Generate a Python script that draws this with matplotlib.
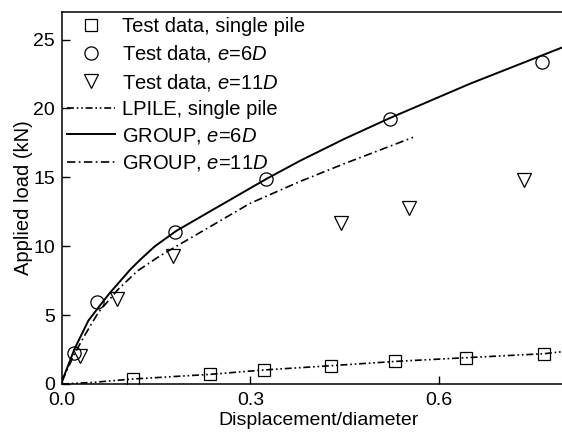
import numpy as np
import matplotlib
matplotlib.use("Agg")
import matplotlib.pyplot as plt

plt.rcParams['font.family'] = ['Liberation Sans', 'DejaVu Sans']
plt.rcParams['mathtext.fontset'] = 'custom'
plt.rcParams['mathtext.rm'] = 'Liberation Sans'
plt.rcParams['mathtext.it'] = 'Liberation Sans:italic'
plt.rcParams['lines.scale_dashes'] = False

# test data
single_x = [0.1125, 0.236, 0.322, 0.429, 0.531, 0.644, 0.768]
single_y = [0.36, 0.70, 1.02, 1.33, 1.64, 1.91, 2.20]
e6_x = [0.019, 0.055, 0.180, 0.325, 0.522, 0.765]
e6_y = [2.27, 5.97, 11.05, 14.9, 19.27, 23.37]
e11_x = [0.029, 0.087, 0.176, 0.444, 0.553, 0.735]
e11_y = [2.03, 6.2, 9.28, 11.7, 12.8, 14.8]

# model curves
lpile_x = [0, 0.05, 0.1125, 0.236, 0.322, 0.429, 0.531, 0.644, 0.768, 0.8]
lpile_y = [0, 0.12, 0.36, 0.70, 1.02, 1.33, 1.64, 1.91, 2.20, 2.36]
g6_x = [0.0, 0.02, 0.042, 0.063, 0.076, 0.108, 0.124, 0.148, 0.1815, 0.246, 0.326,
        0.379, 0.45, 0.522, 0.65, 0.795]
g6_y = [0.2, 2.55, 4.6, 5.85, 6.6, 8.27, 9.0, 10.0, 11.1, 12.8, 14.9,
        16.2, 17.8, 19.3, 21.8, 24.4]
g11_x = [0.0, 0.02, 0.037, 0.058, 0.09, 0.12, 0.156, 0.22, 0.299, 0.379, 0.45, 0.559]
g11_y = [0.2, 2.2, 3.6, 5.2, 6.9, 8.2, 9.3, 11.0, 13.1, 14.7, 16.0, 17.9]

fig = plt.figure(figsize=(5.62, 4.34), dpi=100)
ax = fig.add_axes([62/562, 50/434, 502.4/562, 372/434])

mk = dict(linestyle='none', markerfacecolor='none', markeredgecolor='black', markeredgewidth=0.9)
ax.plot(single_x, single_y, marker='s', markersize=8, label='Test data, single pile', **mk)
ax.plot(e6_x, e6_y, marker='o', markersize=9.5, label='Test data, $e$=6$D$', **mk)
ax.plot(e11_x, e11_y, marker='v', markersize=10, label='Test data, $e$=11$D$', **mk)

ln, = ax.plot(lpile_x, lpile_y, color='black', lw=1.2, label='LPILE, single pile')
ln.set_dashes([5, 2, 1.2, 2, 1.2, 2])
ax.plot(g6_x, g6_y, color='black', lw=1.4, label='GROUP, $e$=6$D$')
ln, = ax.plot(g11_x, g11_y, color='black', lw=1.2, label='GROUP, $e$=11$D$')
ln.set_dashes([6, 2.5, 1.2, 2.5])

ax.set_xlim(0, 0.8)
ax.set_ylim(0, 27)
ax.set_xticks([0.0, 0.3, 0.6])
ax.set_xticklabels(['0.0', '0.3', '0.6'])
ax.set_yticks([0, 5, 10, 15, 20, 25])
ax.tick_params(direction='in', length=6, width=1, labelsize=14)
ax.tick_params(axis='x', pad=6)
ax.tick_params(axis='y', pad=5)
for s in ax.spines.values():
    s.set_linewidth(1.1)

ax.set_xlabel('Displacement/diameter', fontsize=14, labelpad=0)
ax.xaxis.set_label_coords(0.511, -0.076)
ax.set_ylabel('Applied load (kN)', fontsize=14.5, labelpad=0)

ax.legend(loc='upper left', frameon=False, fontsize=14.5, handlelength=2.4,
          handletextpad=0.35, labelspacing=0.36, borderaxespad=0.1, borderpad=0.15)

fig.savefig('out.png', dpi=100)
